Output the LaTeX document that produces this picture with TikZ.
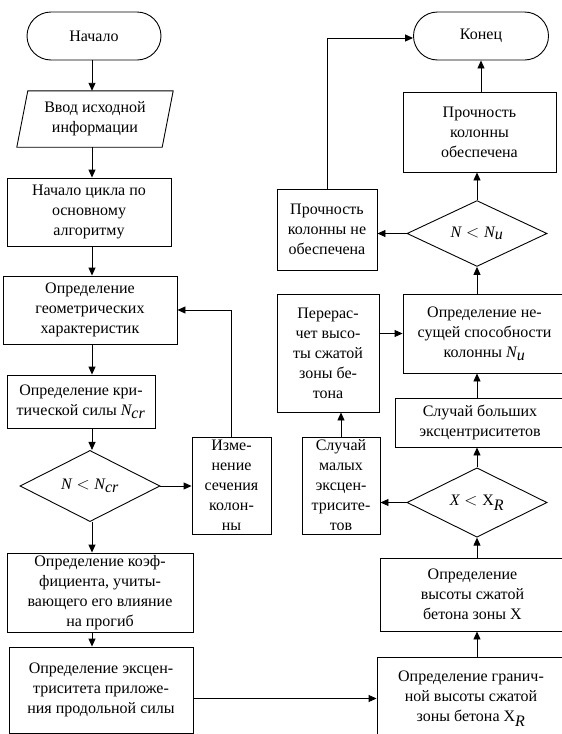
\documentclass[tikz,border=0pt]{standalone}
\usepackage{fontspec}
\setmainfont{Liberation Serif}
\usetikzlibrary{arrows.meta,shapes.geometric,calc}
\newcommand{\mvar}[1]{\textit{#1}}
\begin{document}
\begin{tikzpicture}[x=1pt,y=-1pt,
  every node/.style={font=\fontsize{16}{20}\selectfont, inner sep=0pt, align=center},
  box/.style={draw, rectangle, line width=0.9pt},
  term/.style={draw, rectangle, rounded corners=24pt, line width=0.9pt},
  dia/.style={draw, diamond, line width=0.9pt},
  ln/.style={line width=0.9pt},
  arr/.style={ln, -{Triangle[length=8pt,width=7pt]}}
]
\useasboundingbox (0,0) rectangle (562,734);
% spines
\coordinate (ls) at (92,0);
\coordinate (rs) at (477,0);
% left column
\node[term, minimum width=134, minimum height=48] (start) at (94,36) {Начало};
\node[minimum width=145, minimum height=56] (inp) at (95,119) {Ввод исходной\\информации};
\draw[ln] ([xshift=5.5pt]inp.north west) -- ([xshift=5.5pt]inp.north east) -- ([xshift=-5.5pt]inp.south east) -- ([xshift=-5.5pt]inp.south west) -- cycle;
\node[box, minimum width=164, minimum height=68] (loop) at (89,212) {Начало цикла по\\основному\\алгоритму};
\node[box, minimum width=174, minimum height=68] (geom) at (90,310) {Определение\\геометрических\\характеристик};
\node[box, minimum width=148, minimum height=53] (crit) at (81,401.5) {Определение кри-\\тической силы $\mvar{N}_{\mvar{cr}}$};
\node[dia, minimum width=140, minimum height=66] (dNcr) at (90,486) {$\mvar{N} < \mvar{N}_{\mvar{cr}}$};
\node[box, minimum width=79, minimum height=97] (chg) at (231.5,485.5) {Изме-\\нение\\сечения\\колон-\\ны};
\node[box, minimum width=186, minimum height=79] (koef) at (100,592.5) {Определение коэф-\\фициента, учиты-\\вающего его влияние\\на прогиб};
\node[box, minimum width=184, minimum height=86] (eks) at (101,690) {Определение эксцен-\\триситета приложе-\\ния продольной силы};
% right column
\node[term, minimum width=135, minimum height=48] (end) at (481,36) {Конец};
\node[box, minimum width=153, minimum height=80] (ok) at (479.5,132) {Прочность\\колонны\\обеспечена};
\node[dia, minimum width=140, minimum height=63] (dNu) at (477,233.5) {$\mvar{N} < \mvar{N}_{\mvar{u}}$};
\node[box, minimum width=100, minimum height=81] (notok) at (327,229.5) {Прочность\\колонны не\\обеспечена};
\node[box, minimum width=163, minimum height=79] (Nu) at (484.5,333.5) {Определение не-\\сущей способности\\колонны $\mvar{N}_{\mvar{u}}$};
\node[box, minimum width=102, minimum height=118] (recalc) at (328,353) {Перерас-\\чет высо-\\ты сжатой\\зоны бе-\\тона};
\node[box, minimum width=170, minimum height=49] (big) at (480,422.5) {Случай больших\\эксцентриситетов};
\node[dia, minimum width=140, minimum height=61] (dX) at (477,502.5) {$\mvar{X} < \mathrm{X}_{\mvar{R}}$};
\node[box, minimum width=78, minimum height=97] (small) at (341,485.5) {Случай\\малых\\эксцен-\\трисите-\\тов};
\node[box, minimum width=185, minimum height=73] (hX) at (472.5,594.5) {Определение\\высоты сжатой\\бетона зоны X};
\node[box, minimum width=188, minimum height=83] (gran) at (471,698.5) {Определение гранич-\\ной высоты сжатой\\зоны бетона X$_{\mvar{R}}$};
% left connectors
\draw[arr] (start.south -| ls) -- (inp.north -| ls);
\draw[arr] (inp.south -| ls) -- (loop.north -| ls);
\draw[arr] (loop.south -| ls) -- (geom.north -| ls);
\draw[arr] (geom.south -| ls) -- (crit.north -| ls);
\draw[arr] (crit.south -| ls) -- (dNcr.north -| ls);
\draw[arr] (dNcr.east) -- (chg.west |- dNcr.east);
\draw[arr] (chg.north) |- (geom.east);
\draw[arr] (dNcr.south -| ls) -- (koef.north -| ls);
\draw[arr] (koef.south -| ls) -- (eks.north -| ls);
\draw[arr] (eks.east |- gran.west) -- (gran.west);
% right connectors
\draw[arr] (gran.north -| rs) -- (hX.south -| rs);
\draw[arr] (hX.north -| rs) -- (dX.south -| rs);
\draw[arr] (dX.north -| rs) -- (big.south -| rs);
\draw[arr] (big.north -| rs) -- (Nu.south -| rs);
\draw[arr] (Nu.north -| rs) -- (dNu.south -| rs);
\draw[arr] (dNu.north -| rs) -- (ok.south -| rs);
\draw[arr] (ok.north -| end.south) -- (end.south);
\draw[arr] (dX.west) -- (small.east |- dX.west);
\draw[arr] (small.north) -- (small.north |- recalc.south);
\draw[arr] (recalc.east |- Nu.west) -- (Nu.west);
\draw[arr] (dNu.west) -- (notok.east |- dNu.west);
\draw[arr] (notok.north) |- ([yshift=-2pt]end.west);
\end{tikzpicture}
\end{document}
